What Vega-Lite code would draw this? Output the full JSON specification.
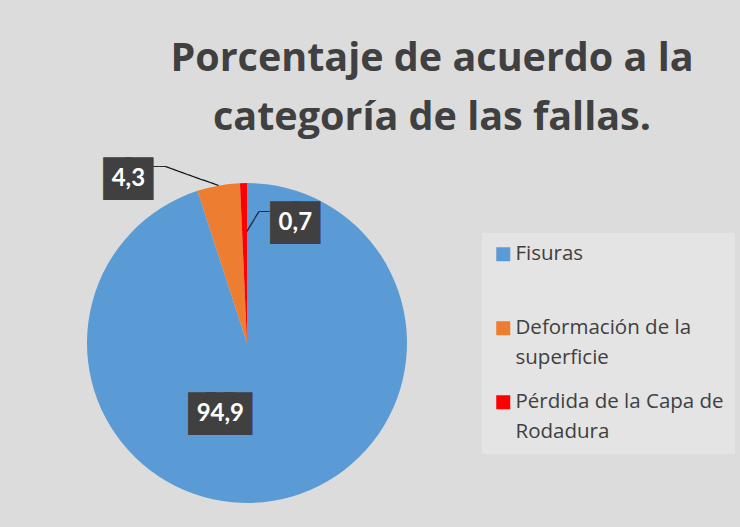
{
  "$schema": "https://vega.github.io/schema/vega-lite/v6.json",
  "autosize": {"type": "none"},
  "width": 320,
  "height": 320,
  "padding": {"left": 87, "top": 183, "right": 333, "bottom": 24},
  "background": "#dcdcdc",
  "config": {"view": {"stroke": null}},
  "title": {
    "text": ["Porcentaje de acuerdo a la", "categoría de las fallas."],
    "font": "Open Sans",
    "fontSize": 39.5,
    "fontWeight": "bold",
    "color": "#404040",
    "anchor": "middle",
    "dx": 185,
    "offset": 19,
    "lineHeight": 59
  },
  "data": {
    "values": [
      {"categoria": "Fisuras", "valor": 94.9, "orden": 1, "etiqueta": "94,9"},
      {"categoria": "Deformación de la superficie", "valor": 4.3, "orden": 2, "etiqueta": "4,3"},
      {"categoria": "Pérdida de la Capa de Rodadura", "valor": 0.7, "orden": 3, "etiqueta": "0,7"}
    ]
  },
  "encoding": {
    "theta": {"field": "valor", "type": "quantitative", "stack": true},
    "order": {"field": "orden", "type": "quantitative"},
    "detail": {"field": "categoria", "type": "nominal"}
  },
  "layer": [
    {
      "mark": {"type": "arc", "outerRadius": 160},
      "encoding": {
        "color": {
          "field": "categoria",
          "type": "nominal",
          "scale": {
            "domain": ["Fisuras", "Deformación de la superficie", "Pérdida de la Capa de Rodadura"],
            "range": ["#5b9bd5", "#ed7d31", "#ff0000"]
          },
          "legend": {
            "orient": "none",
            "legendX": 395,
            "legendY": 50,
            "title": null,
            "symbolType": "square",
            "symbolSize": 196,
            "symbolStrokeWidth": 0,
            "labelFont": "Open Sans",
            "labelFontSize": 20.5,
            "labelColor": "#404040",
            "labelOffset": 2,
            "labelLimit": 400,
            "rowPadding": 23,
            "padding": 11,
            "fillColor": "#e4e4e4",
            "labelExpr": "datum.label == 'Fisuras' ? ['Fisuras', ''] : datum.label == 'Deformación de la superficie' ? ['Deformación de la', 'superficie'] : ['Pérdida de la Capa de', 'Rodadura']",
            "encode": {"labels": {"update": {"lineHeight": {"value": 30}}}}
          }
        }
      }
    },
    {
      "mark": {"type": "text", "radius": 66, "dx": -55, "dy": 7, "font": "DejaVu Sans", "fontSize": 36, "fill": "#404040", "align": "center", "baseline": "middle"},
      "encoding": {
        "text": {"value": "█"},
        "opacity": {"condition": {"test": "datum.categoria == 'Fisuras'", "value": 1}, "value": 0}
      }
    },
    {
      "mark": {"type": "text", "radius": 66, "dx": -19, "dy": 7, "font": "DejaVu Sans", "fontSize": 36, "fill": "#404040", "align": "center", "baseline": "middle"},
      "encoding": {
        "text": {"value": "█"},
        "opacity": {"condition": {"test": "datum.categoria == 'Fisuras'", "value": 1}, "value": 0}
      }
    },
    {
      "mark": {"type": "text", "radius": 66, "dx": -37, "dy": 7, "font": "DejaVu Sans", "fontSize": 36, "fill": "#404040", "align": "center", "baseline": "middle"},
      "encoding": {
        "text": {"value": "█"},
        "opacity": {"condition": {"test": "datum.categoria == 'Fisuras'", "value": 1}, "value": 0}
      }
    },
    {
      "mark": {"type": "text", "radius": 66, "dx": -37, "dy": 6, "font": "Lato", "fontSize": 24, "fontWeight": "bold", "fill": "#ffffff", "align": "center", "baseline": "middle"},
      "encoding": {
        "text": {"field": "etiqueta"},
        "opacity": {"condition": {"test": "datum.categoria == 'Fisuras'", "value": 1}, "value": 0}
      }
    },
    {
      "mark": {"type": "text", "radius": 183, "dx": -97, "dy": 17, "font": "DejaVu Sans", "fontSize": 36, "fill": "#404040", "align": "center", "baseline": "middle"},
      "encoding": {
        "text": {"value": "█"},
        "opacity": {"condition": {"test": "datum.categoria == 'Deformación de la superficie'", "value": 1}, "value": 0}
      }
    },
    {
      "mark": {"type": "text", "radius": 183, "dx": -75, "dy": 17, "font": "DejaVu Sans", "fontSize": 36, "fill": "#404040", "align": "center", "baseline": "middle"},
      "encoding": {
        "text": {"value": "█"},
        "opacity": {"condition": {"test": "datum.categoria == 'Deformación de la superficie'", "value": 1}, "value": 0}
      }
    },
    {
      "mark": {"type": "text", "radius": 183, "dx": -86, "dy": 16, "font": "Lato", "fontSize": 24, "fontWeight": "bold", "fill": "#ffffff", "align": "center", "baseline": "middle"},
      "encoding": {
        "text": {"field": "etiqueta"},
        "opacity": {"condition": {"test": "datum.categoria == 'Deformación de la superficie'", "value": 1}, "value": 0}
      }
    },
    {
      "mark": {"type": "text", "radius": 174, "dx": -21.4, "dy": 12.7, "angle": 19.7, "font": "DejaVu Sans", "fontSize": 13.4, "fill": "#111111", "align": "center", "baseline": "middle"},
      "encoding": {
        "text": {"value": "───────"},
        "opacity": {"condition": {"test": "datum.categoria == 'Deformación de la superficie'", "value": 1}, "value": 0}
      }
    },
    {
      "mark": {"type": "text", "radius": 189, "dx": -54, "dy": 10, "font": "DejaVu Sans", "fontSize": 10, "fill": "#111111", "align": "center", "baseline": "middle"},
      "encoding": {
        "text": {"value": "──"},
        "opacity": {"condition": {"test": "datum.categoria == 'Deformación de la superficie'", "value": 1}, "value": 0}
      }
    },
    {
      "mark": {"type": "text", "radius": 120, "dx": 40, "dy": 1, "font": "DejaVu Sans", "fontSize": 36, "fill": "#404040", "align": "center", "baseline": "middle"},
      "encoding": {
        "text": {"value": "█"},
        "opacity": {"condition": {"test": "datum.categoria == 'Pérdida de la Capa de Rodadura'", "value": 1}, "value": 0}
      }
    },
    {
      "mark": {"type": "text", "radius": 120, "dx": 62, "dy": 1, "font": "DejaVu Sans", "fontSize": 36, "fill": "#404040", "align": "center", "baseline": "middle"},
      "encoding": {
        "text": {"value": "█"},
        "opacity": {"condition": {"test": "datum.categoria == 'Pérdida de la Capa de Rodadura'", "value": 1}, "value": 0}
      }
    },
    {
      "mark": {"type": "text", "radius": 120, "dx": 51, "dy": 0, "font": "Lato", "fontSize": 24, "fontWeight": "bold", "fill": "#ffffff", "align": "center", "baseline": "middle"},
      "encoding": {
        "text": {"field": "etiqueta"},
        "opacity": {"condition": {"test": "datum.categoria == 'Pérdida de la Capa de Rodadura'", "value": 1}, "value": 0}
      }
    },
    {
      "mark": {"type": "text", "radius": 121, "dx": 4.5, "dy": 7.5, "angle": -59, "font": "DejaVu Sans", "fontSize": 12.9, "fill": "#111111", "align": "center", "baseline": "middle"},
      "encoding": {
        "text": {"value": "───"},
        "opacity": {"condition": {"test": "datum.categoria == 'Pérdida de la Capa de Rodadura'", "value": 1}, "value": 0}
      }
    },
    {
      "mark": {"type": "text", "radius": 131, "dx": 20, "dy": 0, "font": "DejaVu Sans", "fontSize": 9.1, "fill": "#111111", "align": "center", "baseline": "middle"},
      "encoding": {
        "text": {"value": "──"},
        "opacity": {"condition": {"test": "datum.categoria == 'Pérdida de la Capa de Rodadura'", "value": 1}, "value": 0}
      }
    }
  ]
}
